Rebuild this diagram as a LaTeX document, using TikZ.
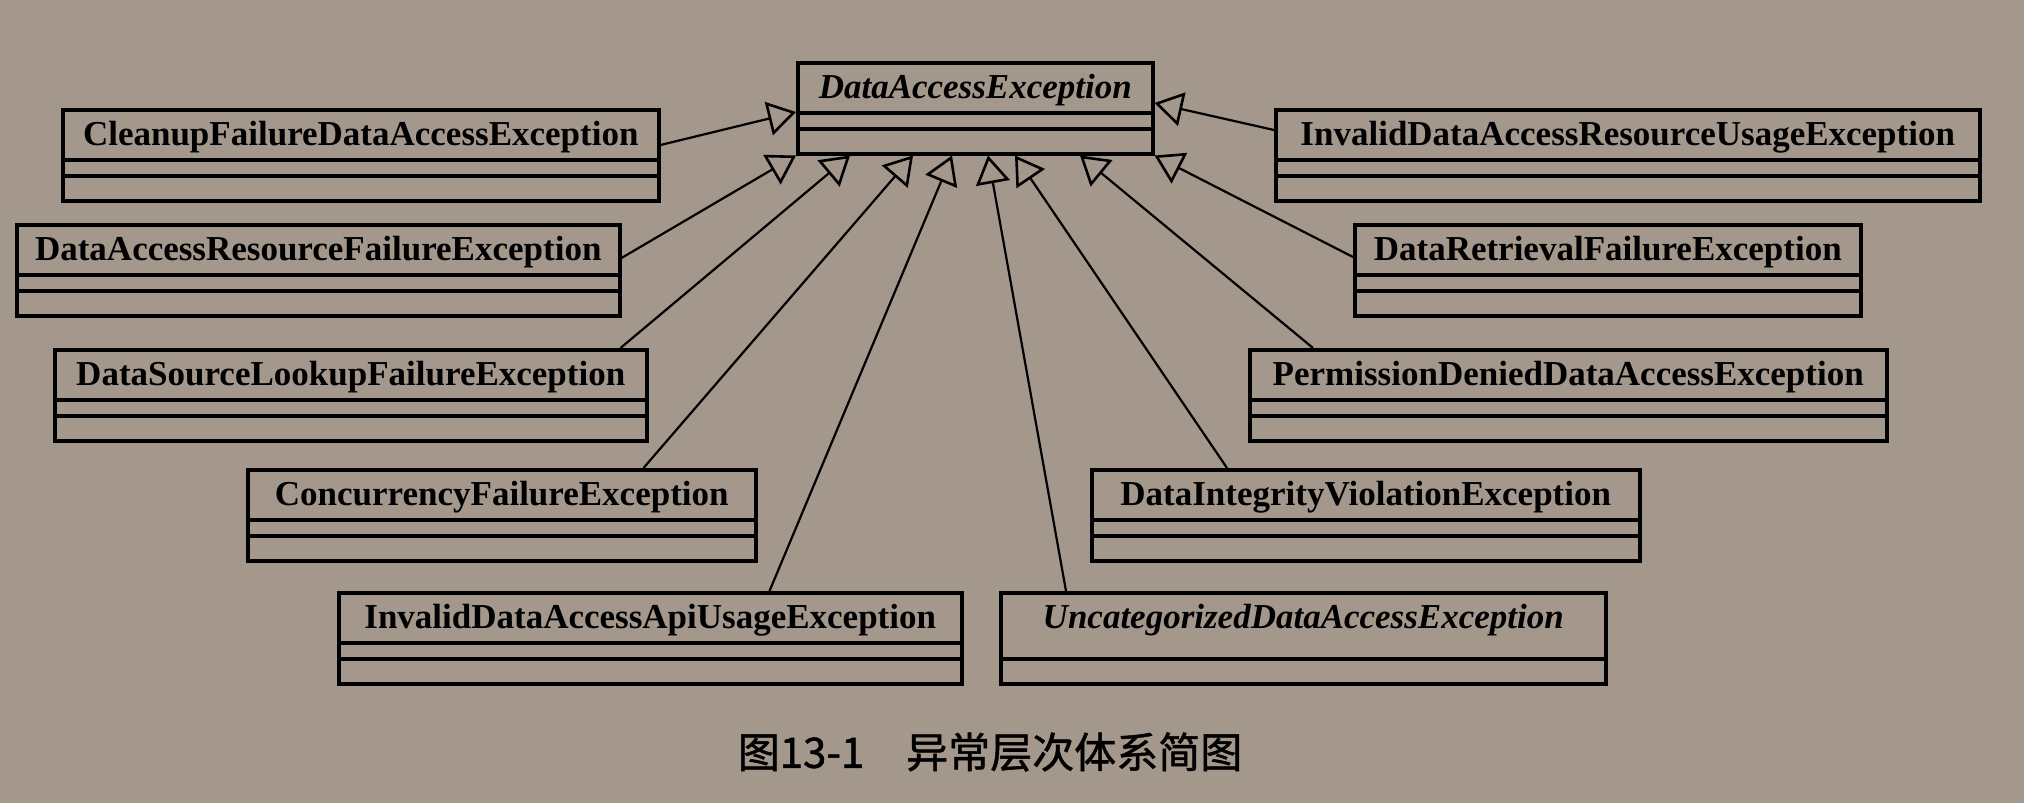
\documentclass[tikz,border=0pt]{standalone}
\usepackage{fontspec}
\setmainfont{Liberation Serif}
\newfontfamily\cjkfont[FakeBold=1.2]{Noto Sans CJK SC}
\usetikzlibrary{arrows.meta}
\definecolor{paper}{RGB}{164,151,140}

\begin{document}
\begin{tikzpicture}[x=1pt, y=-1pt,
	klass/.style={draw, line width=3.5pt, anchor=north west, inner xsep=0pt, inner ysep=0pt,
		text height=36pt, text depth=55pt, font=\fontsize{35}{40}\selectfont\bfseries},
	abstract/.style={klass, font=\fontsize{35}{40}\selectfont\bfseries\itshape},
	inherit/.style={line width=2.2pt, -{Triangle[open, length=28pt, width=34pt, line width=2.6pt]}}]
	\fill[paper] (0,0) rectangle (2024,803);
	% classes
	\node[abstract, minimum width=355pt] (dae) at (796,61) {DataAccessException};
	\node[klass, minimum width=596pt] (cleanup) at (61,108) {CleanupFailureDataAccessException};
	\node[klass, minimum width=603pt] (darf) at (15,223) {DataAccessResourceFailureException};
	\node[klass, minimum width=592pt] (dslf) at (53,348) {DataSourceLookupFailureException};
	\node[klass, minimum width=508pt] (cf) at (246,468) {ConcurrencyFailureException};
	\node[klass, minimum width=623pt] (idaau) at (337,591) {InvalidDataAccessApiUsageException};
	\node[klass, minimum width=704pt] (idaru) at (1274,108) {InvalidDataAccessResourceUsageException};
	\node[klass, minimum width=506pt] (drf) at (1353,223) {DataRetrievalFailureException};
	\node[klass, minimum width=637pt] (pdda) at (1248,348) {PermissionDeniedDataAccessException};
	\node[klass, minimum width=548pt] (div) at (1090,468) {DataIntegrityViolationException};
	\node[abstract, minimum width=605pt] (uda) at (999,591) {UncategorizedDataAccessException};
	% compartments
	\foreach \n in {dae,cleanup,darf,dslf,cf,idaau,idaru,drf,pdda,div} {
		\draw[line width=3.5pt] ([yshift=-52pt]\n.north west) -- ([yshift=-52pt]\n.north east);
	}
	\foreach \n in {dae,cleanup,darf,dslf,cf,idaau,idaru,drf,pdda,div,uda} {
		\draw[line width=3.5pt] ([yshift=-68pt]\n.north west) -- ([yshift=-68pt]\n.north east);
	}
	% generalisations
	\draw[inherit] ([yshift=-37pt]cleanup.north east) -- ([yshift=-51pt]dae.north west);
	\draw[inherit] ([yshift=-22pt]idaru.north west) -- ([yshift=-42pt]dae.north east);
	\draw[inherit] ([yshift=-35pt]darf.north east) -- (dae.south west);
	\draw[inherit] ([xshift=-28pt]dslf.north east) -- ([xshift=54pt]dae.south west);
	\draw[inherit] ([xshift=-114pt]cf.north east) -- ([xshift=117pt]dae.south west);
	\draw[inherit] ([xshift=-194pt]idaau.north east) -- ([xshift=156pt]dae.south west);
	\draw[inherit] ([xshift=67pt]uda.north west) -- ([xshift=192pt]dae.south west);
	\draw[inherit] ([xshift=137pt]div.north west) -- ([xshift=219pt]dae.south west);
	\draw[inherit] ([xshift=65pt]pdda.north west) -- ([xshift=284pt]dae.south west);
	\draw[inherit] ([yshift=-34pt]drf.north west) -- (dae.south east);
	\node[font=\cjkfont\fontsize{42}{48}\selectfont] (caption) at (990,752) {图13-1　异常层次体系简图};
\end{tikzpicture}
\end{document}
